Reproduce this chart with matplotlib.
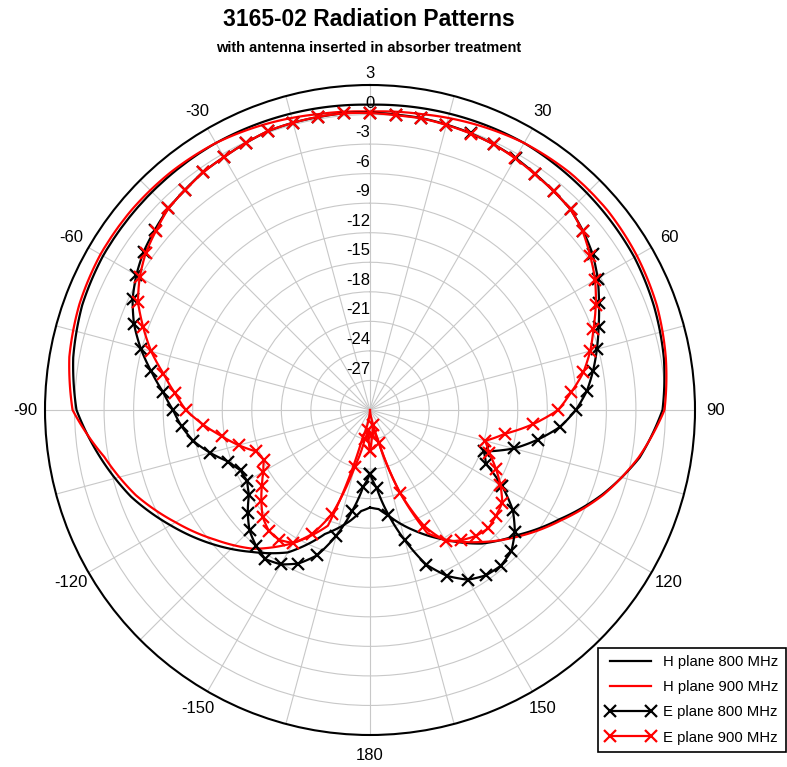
import numpy as np
import matplotlib
matplotlib.use('Agg')
import matplotlib.pyplot as plt

plt.rcParams['font.family'] = ['Liberation Sans', 'DejaVu Sans']

# E plane, one point every 5 degrees from -180 to 180
e_ang = np.arange(-180, 181, 5)
e800 = [-23.5, -22.2, -19.6, -16.8, -14.3, -12.8, -11.9, -11.5, -12.0, -12.7,
        -13.8, -15.0, -15.6, -15.5, -14.7, -13.2, -11.8, -10.8, -10.0, -8.9,
        -7.45, -5.9, -4.5, -3.4, -2.6, -1.95, -1.5, -1.05, -0.8, -0.5,
        -0.35, -0.1, 0.15, 0.2, 0.2, 0.25, 0.2, 0.1, 0.1, 0.0,
        -0.1, -0.25, -0.45, -0.75, -1.0, -1.2, -1.75, -2.4, -3.3, -4.35,
        -5.3, -6.15, -7.0, -7.9, -9.1, -10.6, -12.7, -14.9, -17.7, -17.0,
        -14.5, -12.3, -10.8, -9.7, -9.35, -9.5, -10.1, -11.4, -13.3, -16.3,
        -19.2, -22.0, -23.5]
e900 = [-25.8, -28.0, -27.0, -24.0, -18.8, -16.1, -14.4, -13.9, -14.0, -14.6,
        -15.6, -16.6, -17.5, -18.1, -17.7, -16.2, -14.7, -13.0, -11.3, -10.1,
        -8.7, -7.0, -5.5, -4.0, -3.0, -2.2, -1.65, -1.05, -0.82, -0.52,
        -0.34, -0.1, 0.17, 0.19, 0.23, 0.24, 0.15, 0.05, 0.07, -0.04,
        -0.13, -0.25, -0.5, -0.8, -1.0, -1.2, -1.8, -2.7, -3.6, -4.7,
        -5.85, -6.85, -8.0, -9.5, -10.9, -13.4, -16.1, -17.9, -17.1, -15.9,
        -14.7, -13.6, -13.3, -13.0, -13.3, -13.85, -14.6, -17.0, -21.0, -26.5,
        -28.5, -27.5, -25.8]

# H plane
h800_ang = [-180, -175, -170, -160, -150, -140, -130, -120, -110, -100, -90, -80, -70,
            -60, -50, -40, -30, -20, -10, 0, 10, 20, 30, 40, 50, 60, 70, 80, 90,
            100, 110, 120, 130, 140, 150, 160, 170, 175, 180]
h800 = [-20.1, -19.7, -18.6, -16.6, -13.3, -11.2, -8.9, -6.6, -4.2, -2.2, -0.2, 0.6, 1.1,
        1.3, 1.3, 1.3, 1.3, 1.2, 1.1, 1.0, 1.1, 1.2, 1.3, 1.2, 1.1, 1.0, 0.7, 0.3, -0.3,
        -2.2, -4.9, -7.8, -10.3, -12.3, -14.8, -17.0, -19.1, -19.9, -20.1]
h900_ang = [-180, -175, -170, -165, -160, -150, -140, -130, -120, -110, -100, -90,
            -80, -70, -60, -50, -40, -30, -20, -10, 0, 10, 20, 30, 40, 50, 60, 70,
            80, 90, 100, 110, 120, 130, 140, 150, 155, 160, 165, 170, 175, 180]
h900 = [-30.0, -29.8, -28.5, -27.0, -17.5, -14.4, -11.6, -9.5, -7.2, -4.7, -2.6, 0.2,
        1.0, 1.4, 1.6, 1.6, 1.5, 1.3, 0.9, 0.5, 0.3, 0.5, 0.9, 1.3, 1.5, 1.5, 1.3, 1.0,
        0.5, -0.1, -2.3, -4.8, -7.6, -10.1, -12.5, -14.8, -16.2, -21.0, -27.0, -29.0, -29.8, -30.0]

r_ticks = [3, 0, -3, -6, -9, -12, -15, -18, -21, -24, -27]

fig = plt.figure(figsize=(7.87, 7.67), dpi=100)
ax = fig.add_axes([45 / 787, 32 / 767, 650 / 787, 650 / 767], projection='polar')
ax.set_theta_zero_location('N')
ax.set_theta_direction(-1)
ax.set_ylim(-30, 3)

lines = []
lines += ax.plot(np.deg2rad(h800_ang), h800, color='black', lw=1.6, label='H plane 800 MHz', zorder=3)
lines += ax.plot(np.deg2rad(h900_ang), h900, color='red', lw=1.6, label='H plane 900 MHz', zorder=3)
lines += ax.plot(np.deg2rad(e_ang), e800, color='black', lw=1.6, marker='x', ms=9, mew=1.6,
                 label='E plane 800 MHz', zorder=4)
lines += ax.plot(np.deg2rad(e_ang), e900, color='red', lw=1.6, marker='x', ms=9, mew=1.6,
                 label='E plane 900 MHz', zorder=5)
# draw segments as arcs in polar space instead of straight chords
for ln in lines:
    ln.get_path()._interpolation_steps = 20

# grid
ax.set_yticks(r_ticks[1:])
ax.set_yticklabels([])
theta_ticks = np.arange(0, 360, 15)
theta_labels = []
for t in theta_ticks:
    if t % 30 == 0 and t != 0:
        theta_labels.append(str(t if t <= 180 else t - 360))
    else:
        theta_labels.append('')
ax.set_xticks(np.deg2rad(theta_ticks))
ax.set_xticklabels(theta_labels, fontsize=12)
ax.tick_params(axis='x', pad=4)
ax.grid(True, color='#c8c8c8', lw=0.8)
ax.spines['polar'].set_linewidth(1.5)
ax.spines['polar'].set_color('black')

for v in r_ticks:
    ax.text(0, v + 0.4, str(v), ha='right' if v < 0 else 'center', va='bottom',
            fontsize=12, zorder=6)

fig.text(0.469, 0.975, '3165-02 Radiation Patterns', ha='center', va='center',
         fontsize=16.5, fontweight='bold', family=['Liberation Sans Narrow', 'Liberation Sans'])
fig.text(0.469, 0.938, 'with antenna inserted in absorber treatment', ha='center', va='center',
         fontsize=10.5, fontweight='bold', family=['Liberation Sans Narrow', 'Liberation Sans'])

leg = fig.legend(loc='lower right', bbox_to_anchor=(786 / 787, 15 / 767), fontsize=10.7,
                 numpoints=2, handlelength=3.4, handletextpad=0.5, fancybox=False,
                 framealpha=1, edgecolor='black', borderpad=0.5, labelspacing=0.75,
                 borderaxespad=0)
leg.get_frame().set_linewidth(1.2)

fig.savefig('out.png', dpi=100)
